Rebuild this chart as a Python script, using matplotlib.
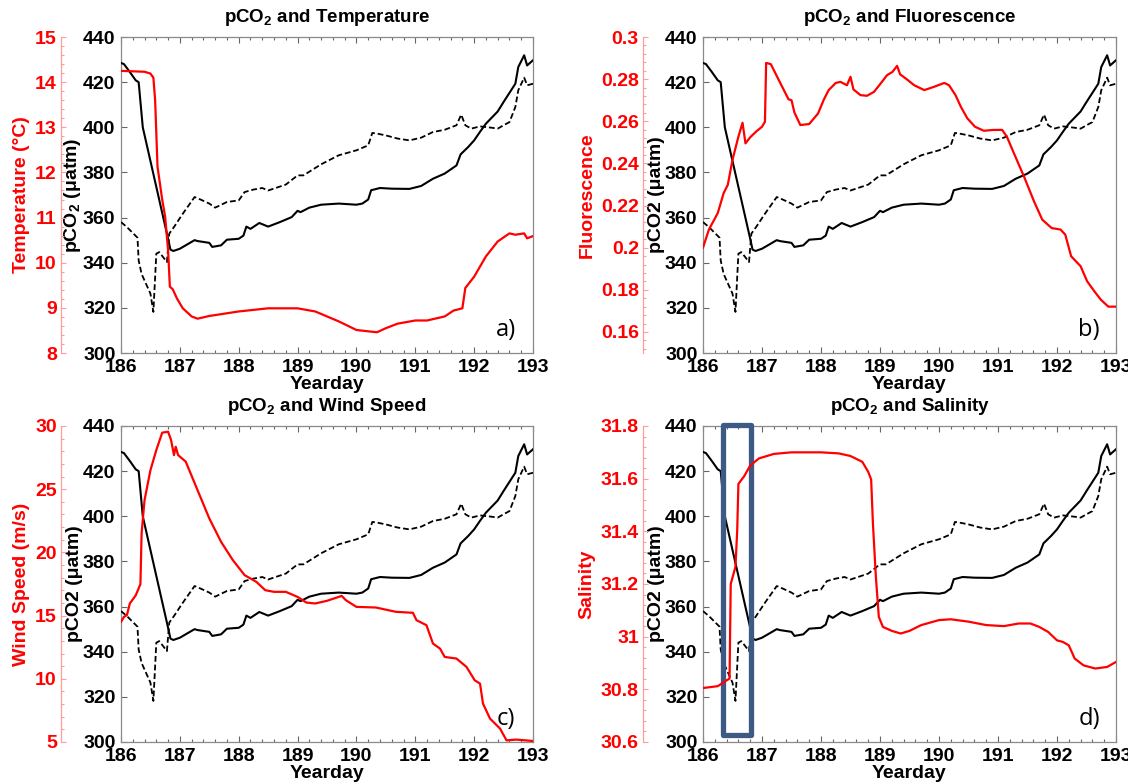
import matplotlib
matplotlib.use("Agg")
import matplotlib.pyplot as plt
from matplotlib.ticker import MultipleLocator, FuncFormatter
from matplotlib.patches import Rectangle

plt.rcParams["font.family"] = ["Liberation Sans", "DejaVu Sans"]
plt.rcParams["font.weight"] = "bold"
plt.rcParams["axes.titleweight"] = "bold"
plt.rcParams["axes.labelweight"] = "bold"
plt.rcParams["mathtext.fontset"] = "custom"
plt.rcParams["mathtext.rm"] = "Liberation Sans:bold"
plt.rcParams["mathtext.it"] = "Liberation Sans:bold"
plt.rcParams["mathtext.bf"] = "Liberation Sans:bold"
plt.rcParams["mathtext.default"] = "rm"

# ---------------------------------------------------------------- data
# surface-water pCO2 (solid)
pco2_days = [186.0, 186.05, 186.15, 186.25, 186.3, 186.37, 186.8, 186.84, 186.89, 187.0,
             187.25, 187.3, 187.5, 187.55, 187.7, 187.8, 188.0, 188.08, 188.13, 188.2,
             188.35, 188.5, 188.7, 188.9, 189.0, 189.05, 189.2, 189.4, 189.7, 190.0,
             190.1, 190.2, 190.25, 190.4, 190.6, 190.9, 191.1, 191.3, 191.5, 191.7,
             191.77, 191.9, 192.0, 192.1, 192.2, 192.4, 192.5, 192.7, 192.75, 192.85,
             192.9, 193.0]
pco2_values = [428.5, 428.0, 424.5, 420.8, 420.0, 400.0, 350.6, 345.8, 345.2, 346.2,
               350.0, 349.6, 348.8, 347.0, 347.7, 350.2, 350.6, 352.0, 356.0, 355.0,
               357.6, 356.0, 358.0, 360.2, 363.0, 362.4, 364.4, 365.7, 366.2, 365.7,
               366.2, 368.0, 372.1, 373.1, 372.8, 372.7, 374.0, 377.2, 379.5, 383.1,
               388.0, 391.3, 394.2, 398.0, 401.6, 407.0, 411.2, 419.3, 426.7, 431.9,
               427.4, 429.7]

# second pCO2 record (dashed)
pco2b_days = [186.0, 186.1, 186.28, 186.3, 186.35, 186.5, 186.55, 186.6, 186.65, 186.78,
              186.82, 186.9, 187.05, 187.25, 187.35, 187.5, 187.6, 187.8, 188.0, 188.1,
              188.25, 188.4, 188.5, 188.8, 189.0, 189.1, 189.4, 189.7, 190.0, 190.2,
              190.27, 190.35, 190.5, 190.7, 190.9, 191.1, 191.3, 191.5, 191.7, 191.78,
              191.85, 191.95, 192.1, 192.3, 192.4, 192.5, 192.6, 192.7, 192.75, 192.85,
              192.9, 193.0]
pco2b_values = [358.0, 355.8, 351.1, 341.0, 335.0, 326.3, 318.2, 344.0, 344.7, 340.3,
                352.9, 355.8, 361.7, 369.1, 368.0, 366.2, 364.4, 366.9, 367.6, 371.3,
                372.4, 373.1, 372.0, 374.6, 378.7, 378.7, 383.6, 387.6, 389.8, 392.0,
                397.5, 397.2, 396.4, 395.0, 394.2, 395.4, 397.9, 398.9, 400.9, 405.6,
                400.9, 399.4, 400.4, 399.8, 399.4, 400.9, 402.3, 409.0, 416.4, 422.0,
                418.6, 419.3]

# temperature (deg C)
temp_days = [186.0, 186.4, 186.5, 186.55, 186.58, 186.62, 186.7, 186.75, 186.8, 186.83,
             186.88, 186.95, 187.05, 187.2, 187.3, 187.5, 188.0, 188.5, 189.0, 189.3,
             189.7, 190.0, 190.2, 190.35, 190.5, 190.7, 191.0, 191.2, 191.5, 191.65,
             191.8, 191.85, 192.0, 192.2, 192.4, 192.6, 192.7, 192.85, 192.9, 193.0]
temp_values = [14.25, 14.23, 14.19, 14.1, 13.6, 12.13, 11.4, 11.02, 10.28, 9.47,
               9.41, 9.21, 8.99, 8.81, 8.76, 8.82, 8.92, 8.99, 8.99, 8.92,
               8.7, 8.51, 8.48, 8.46, 8.55, 8.65, 8.72, 8.72, 8.81, 8.94,
               8.99, 9.44, 9.69, 10.14, 10.47, 10.65, 10.62, 10.65, 10.54, 10.59]

# fluorescence
fluo_days = [186.0, 186.1, 186.25, 186.35, 186.42, 186.5, 186.6, 186.67, 186.72, 186.8,
             186.9, 187.0, 187.05, 187.07, 187.15, 187.3, 187.45, 187.5, 187.55, 187.65,
             187.8, 187.95, 188.05, 188.13, 188.25, 188.33, 188.44, 188.5, 188.55, 188.67,
             188.78, 188.9, 189.01, 189.12, 189.21, 189.29, 189.34, 189.46, 189.58, 189.75,
             189.92, 190.09, 190.17, 190.28, 190.37, 190.48, 190.61, 190.76, 190.93, 191.07,
             191.15, 191.27, 191.44, 191.61, 191.75, 191.91, 192.06, 192.14, 192.24, 192.4,
             192.51, 192.63, 192.74, 192.87, 193.0]
fluo_values = [0.200, 0.2086, 0.2164, 0.2259, 0.2298, 0.2417, 0.2527, 0.2593, 0.2495, 0.2524,
               0.2551, 0.2574, 0.2598, 0.2877, 0.2871, 0.2787, 0.2704, 0.2700, 0.2641, 0.2582,
               0.2587, 0.2637, 0.2704, 0.2748, 0.2782, 0.2787, 0.2771, 0.2811, 0.2751, 0.2724,
               0.2721, 0.2740, 0.2779, 0.2819, 0.2834, 0.2863, 0.2823, 0.2798, 0.2771, 0.2748,
               0.2764, 0.2782, 0.2771, 0.2724, 0.2669, 0.2614, 0.2574, 0.2555, 0.2559, 0.2559,
               0.2527, 0.2448, 0.2338, 0.2220, 0.2133, 0.2093, 0.2086, 0.2062, 0.1959, 0.1912,
               0.1841, 0.1794, 0.1754, 0.1720, 0.1720]

# wind speed (m/s)
wind_days = [186.0, 186.05, 186.1, 186.15, 186.25, 186.33, 186.35, 186.4, 186.5, 186.6,
             186.7, 186.8, 186.85, 186.9, 186.93, 186.97, 187.1, 187.3, 187.5, 187.7,
             187.9, 188.1, 188.3, 188.45, 188.6, 188.8, 189.0, 189.15, 189.3, 189.5,
             189.75, 189.82, 190.0, 190.33, 190.67, 190.96, 191.02, 191.19, 191.3, 191.42,
             191.5, 191.7, 191.87, 192.01, 192.1, 192.15, 192.27, 192.44, 192.55, 192.72,
             193.0]
wind_values = [14.5, 14.9, 15.03, 15.96, 16.6, 17.49, 21.5, 24.14, 26.5, 28.1,
               29.47, 29.55, 28.9, 27.7, 28.36, 27.7, 27.18, 24.93, 22.69, 20.84,
               19.39, 18.2, 17.67, 17.01, 16.88, 16.88, 16.48, 16.03, 15.96, 16.17,
               16.56, 16.22, 15.69, 15.64, 15.3, 15.22, 14.64, 14.24, 12.79, 12.39,
               11.73, 11.6, 10.94, 9.88, 9.62, 8.04, 6.85, 6.06, 5.13, 5.19,
               5.08]

# salinity
sal_days = [186.0, 186.25, 186.4, 186.45, 186.47, 186.55, 186.58, 186.6, 186.7, 186.8,
            186.95, 187.2, 187.5, 188.0, 188.3, 188.5, 188.7, 188.8, 188.85, 188.88,
            188.93, 188.98, 189.05, 189.2, 189.35, 189.5, 189.7, 190.0, 190.2, 190.5,
            190.8, 191.1, 191.35, 191.55, 191.7, 191.85, 192.0, 192.1, 192.2, 192.3,
            192.45, 192.65, 192.85, 193.0]
sal_values = [30.805, 30.812, 30.834, 30.841, 31.2, 31.265, 31.405, 31.58, 31.61, 31.65,
              31.677, 31.694, 31.7, 31.7, 31.696, 31.686, 31.664, 31.626, 31.597, 31.43,
              31.227, 31.075, 31.037, 31.022, 31.012, 31.022, 31.044, 31.063, 31.066, 31.057,
              31.044, 31.04, 31.05, 31.05, 31.037, 31.018, 30.986, 30.98, 30.967, 30.917,
              30.891, 30.879, 30.885, 30.904]

year_days = [186, 187, 188, 189, 190, 191, 192, 193]
pco2_ticks = [300, 320, 340, 360, 380, 400, 420, 440]

# period highlighted in the salinity panel
event_start, event_end = 186.34, 186.81

# ---------------------------------------------------------------- figure
W, H = 1128, 784
DPI = 100
fig = plt.figure(figsize=(W / DPI, H / DPI), dpi=DPI)


def px_axes(left, top, right, bottom):
    return fig.add_axes([left / W, 1 - bottom / H, (right - left) / W, (bottom - top) / H])


def gfmt(v, _):
    return "%g" % round(v, 4)


def panel(box, title, pco2_label, red_label, days, values, red_lim, red_major, red_minor, tag):
    ax = px_axes(*box)
    ax.plot(pco2_days, pco2_values, color="black", lw=1.5, zorder=3)
    ax.plot(pco2b_days, pco2b_values, color="black", lw=1.3, ls=(0, (3.2, 1.6)), zorder=3)
    ax.set_xlim(year_days[0], year_days[-1])
    ax.set_ylim(pco2_ticks[0], pco2_ticks[-1])
    ax.set_xticks(year_days)
    ax.xaxis.set_minor_locator(MultipleLocator(0.2))
    ax.set_yticks(pco2_ticks)
    ax.tick_params(which="both", direction="in", top=True, right=True,
                   labelsize=14, color="#666666", width=0.8)
    ax.tick_params(which="major", length=4, pad=4)
    ax.tick_params(which="minor", length=2.2)
    for s in ax.spines.values():
        s.set_color("#8a8a8a")
        s.set_linewidth(0.9)
    ax.set_xlabel("Yearday", fontsize=14, labelpad=0)
    ax.set_ylabel(pco2_label, fontsize=14, labelpad=0)
    ax.set_title(title, fontsize=13.5, pad=11)
    ax.text(0.935, 0.072, tag, transform=ax.transAxes, fontsize=17,
            fontweight="normal", family=["Open Sans", "DejaVu Sans"],
            ha="center", va="center")

    rx = ax.twinx()
    rx.yaxis.tick_left()
    rx.yaxis.set_label_position("left")
    # red axis sits 60 px left of the pCO2 axis
    rx.spines["left"].set_position(("outward", 60 * 72 / DPI))
    for k in ("right", "top", "bottom"):
        rx.spines[k].set_visible(False)
    rx.spines["left"].set_color("#ff9c9c")
    rx.spines["left"].set_linewidth(0.9)
    rx.plot(days, values, color="red", lw=1.6, zorder=2)
    rx.set_ylim(*red_lim)
    rx.yaxis.set_major_locator(MultipleLocator(red_major))
    rx.yaxis.set_minor_locator(MultipleLocator(red_minor))
    rx.yaxis.set_major_formatter(FuncFormatter(gfmt))
    rx.tick_params(which="both", direction="in", color="#ff9c9c", labelcolor="red",
                   labelsize=14, width=0.8)
    rx.tick_params(which="major", length=3.5, pad=3)
    rx.tick_params(which="minor", length=1.8)
    rx.set_ylabel(red_label, color="red", fontsize=14, labelpad=4)
    return ax, rx


panel((121, 37, 533, 353), "pCO$_2$ and Temperature", "pCO$_2$ (\u03bcatm)",
      "Temperature (\u00b0C)", temp_days, temp_values, (8, 15), 1, 0.2, "a)")
panel((703, 37, 1116, 353), "pCO$_2$ and Fluorescence", "pCO2 (\u03bcatm)",
      "Fluorescence", fluo_days, fluo_values, (0.15, 0.3), 0.02, 0.004, "b)")
panel((121, 426, 533, 742), "pCO$_2$ and Wind Speed", "pCO2 (\u03bcatm)",
      "Wind Speed (m/s)", wind_days, wind_values, (5, 30), 5, 1, "c)")
ax_d, _ = panel((703, 426, 1116, 742), "pCO$_2$ and Salinity", "pCO2 (\u03bcatm)",
                "Salinity", sal_days, sal_values, (30.6, 31.8), 0.2, 0.04, "d)")

# highlight the frontal passage in the salinity panel
ax_d.add_patch(Rectangle((event_start, 303), event_end - event_start, 137.5,
                         fill=False, ec="#3c5a83", lw=3.8, joinstyle="round",
                         clip_on=False, zorder=10))

fig.savefig("out.png", dpi=DPI)
